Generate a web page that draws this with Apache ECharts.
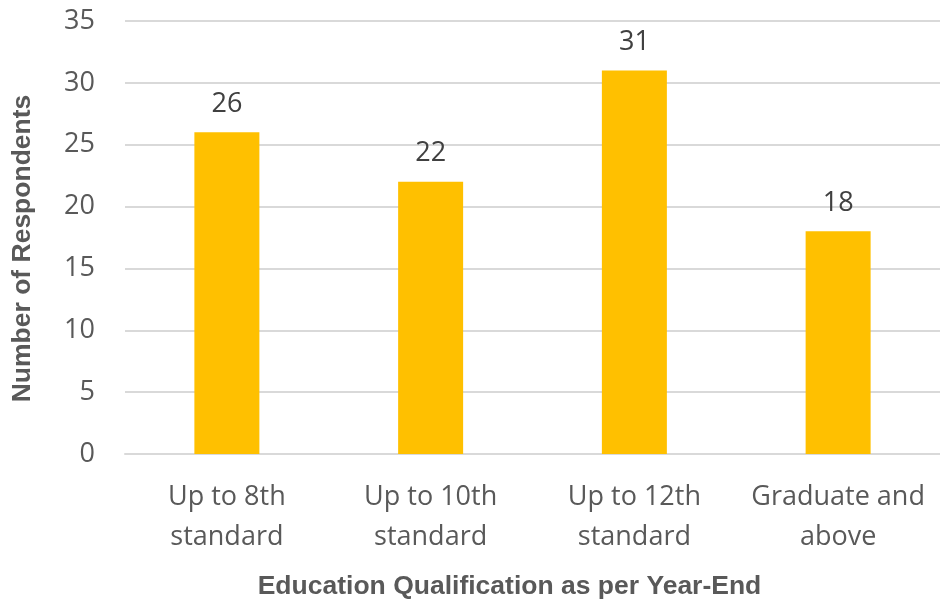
<!DOCTYPE html>
<html>
<head>
<meta charset="utf-8">
<script src="https://cdn.jsdelivr.net/npm/echarts@6/dist/echarts.min.js"></script>
<style>
  html, body { margin: 0; padding: 0; background: #ffffff; }
  #chart { width: 940px; height: 605px; }
</style>
</head>
<body>
<div id="chart"></div>
<script>
// Education levels of respondents (count per category)
const categories = ['Up to 8th\nstandard', 'Up to 10th\nstandard', 'Up to 12th\nstandard', 'Graduate and\nabove'];
const respondents = [26, 22, 31, 18];
const yTicks = { min: 0, max: 35, step: 5 };

const chart = echarts.init(document.getElementById('chart'));
chart.setOption({
  animation: false,
  grid: { left: 125, right: 0, top: 21, bottom: 149 },
  xAxis: {
    type: 'category',
    data: categories,
    name: 'Education Qualification as per Year-End',
    nameLocation: 'middle',
    nameGap: 119,
    nameTextStyle: {
      fontFamily: 'Liberation Sans, Arial', fontWeight: 'bold', fontSize: 26.5, color: '#595959',
      padding: [0, 46, 0, 0]
    },
    axisLine: { lineStyle: { color: '#d9d9d9', width: 2 } },
    axisTick: { show: false },
    axisLabel: { interval: 0, fontFamily: 'Open Sans', fontSize: 27, color: '#595959', lineHeight: 40, margin: 23 }
  },
  yAxis: {
    type: 'value',
    min: yTicks.min, max: yTicks.max, interval: yTicks.step,
    name: 'Number of Respondents',
    nameLocation: 'middle',
    nameGap: 89,
    nameTextStyle: {
      fontFamily: 'Liberation Sans, Arial', fontWeight: 'bold', fontSize: 26.5, color: '#595959',
      padding: [0, 22, 0, 0]
    },
    axisLine: { show: false },
    axisTick: { show: false },
    splitLine: { lineStyle: { color: '#d9d9d9', width: 2 } },
    axisLabel: { fontFamily: 'Open Sans', fontSize: 27, color: '#595959', margin: 30 }
  },
  series: [{
    type: 'bar',
    data: respondents,
    barWidth: 65,
    itemStyle: { color: '#FFC000' },
    label: {
      show: true, position: 'top', distance: 15,
      fontFamily: 'Open Sans', fontSize: 27, color: '#404040'
    }
  }]
});
</script>
</body>
</html>
